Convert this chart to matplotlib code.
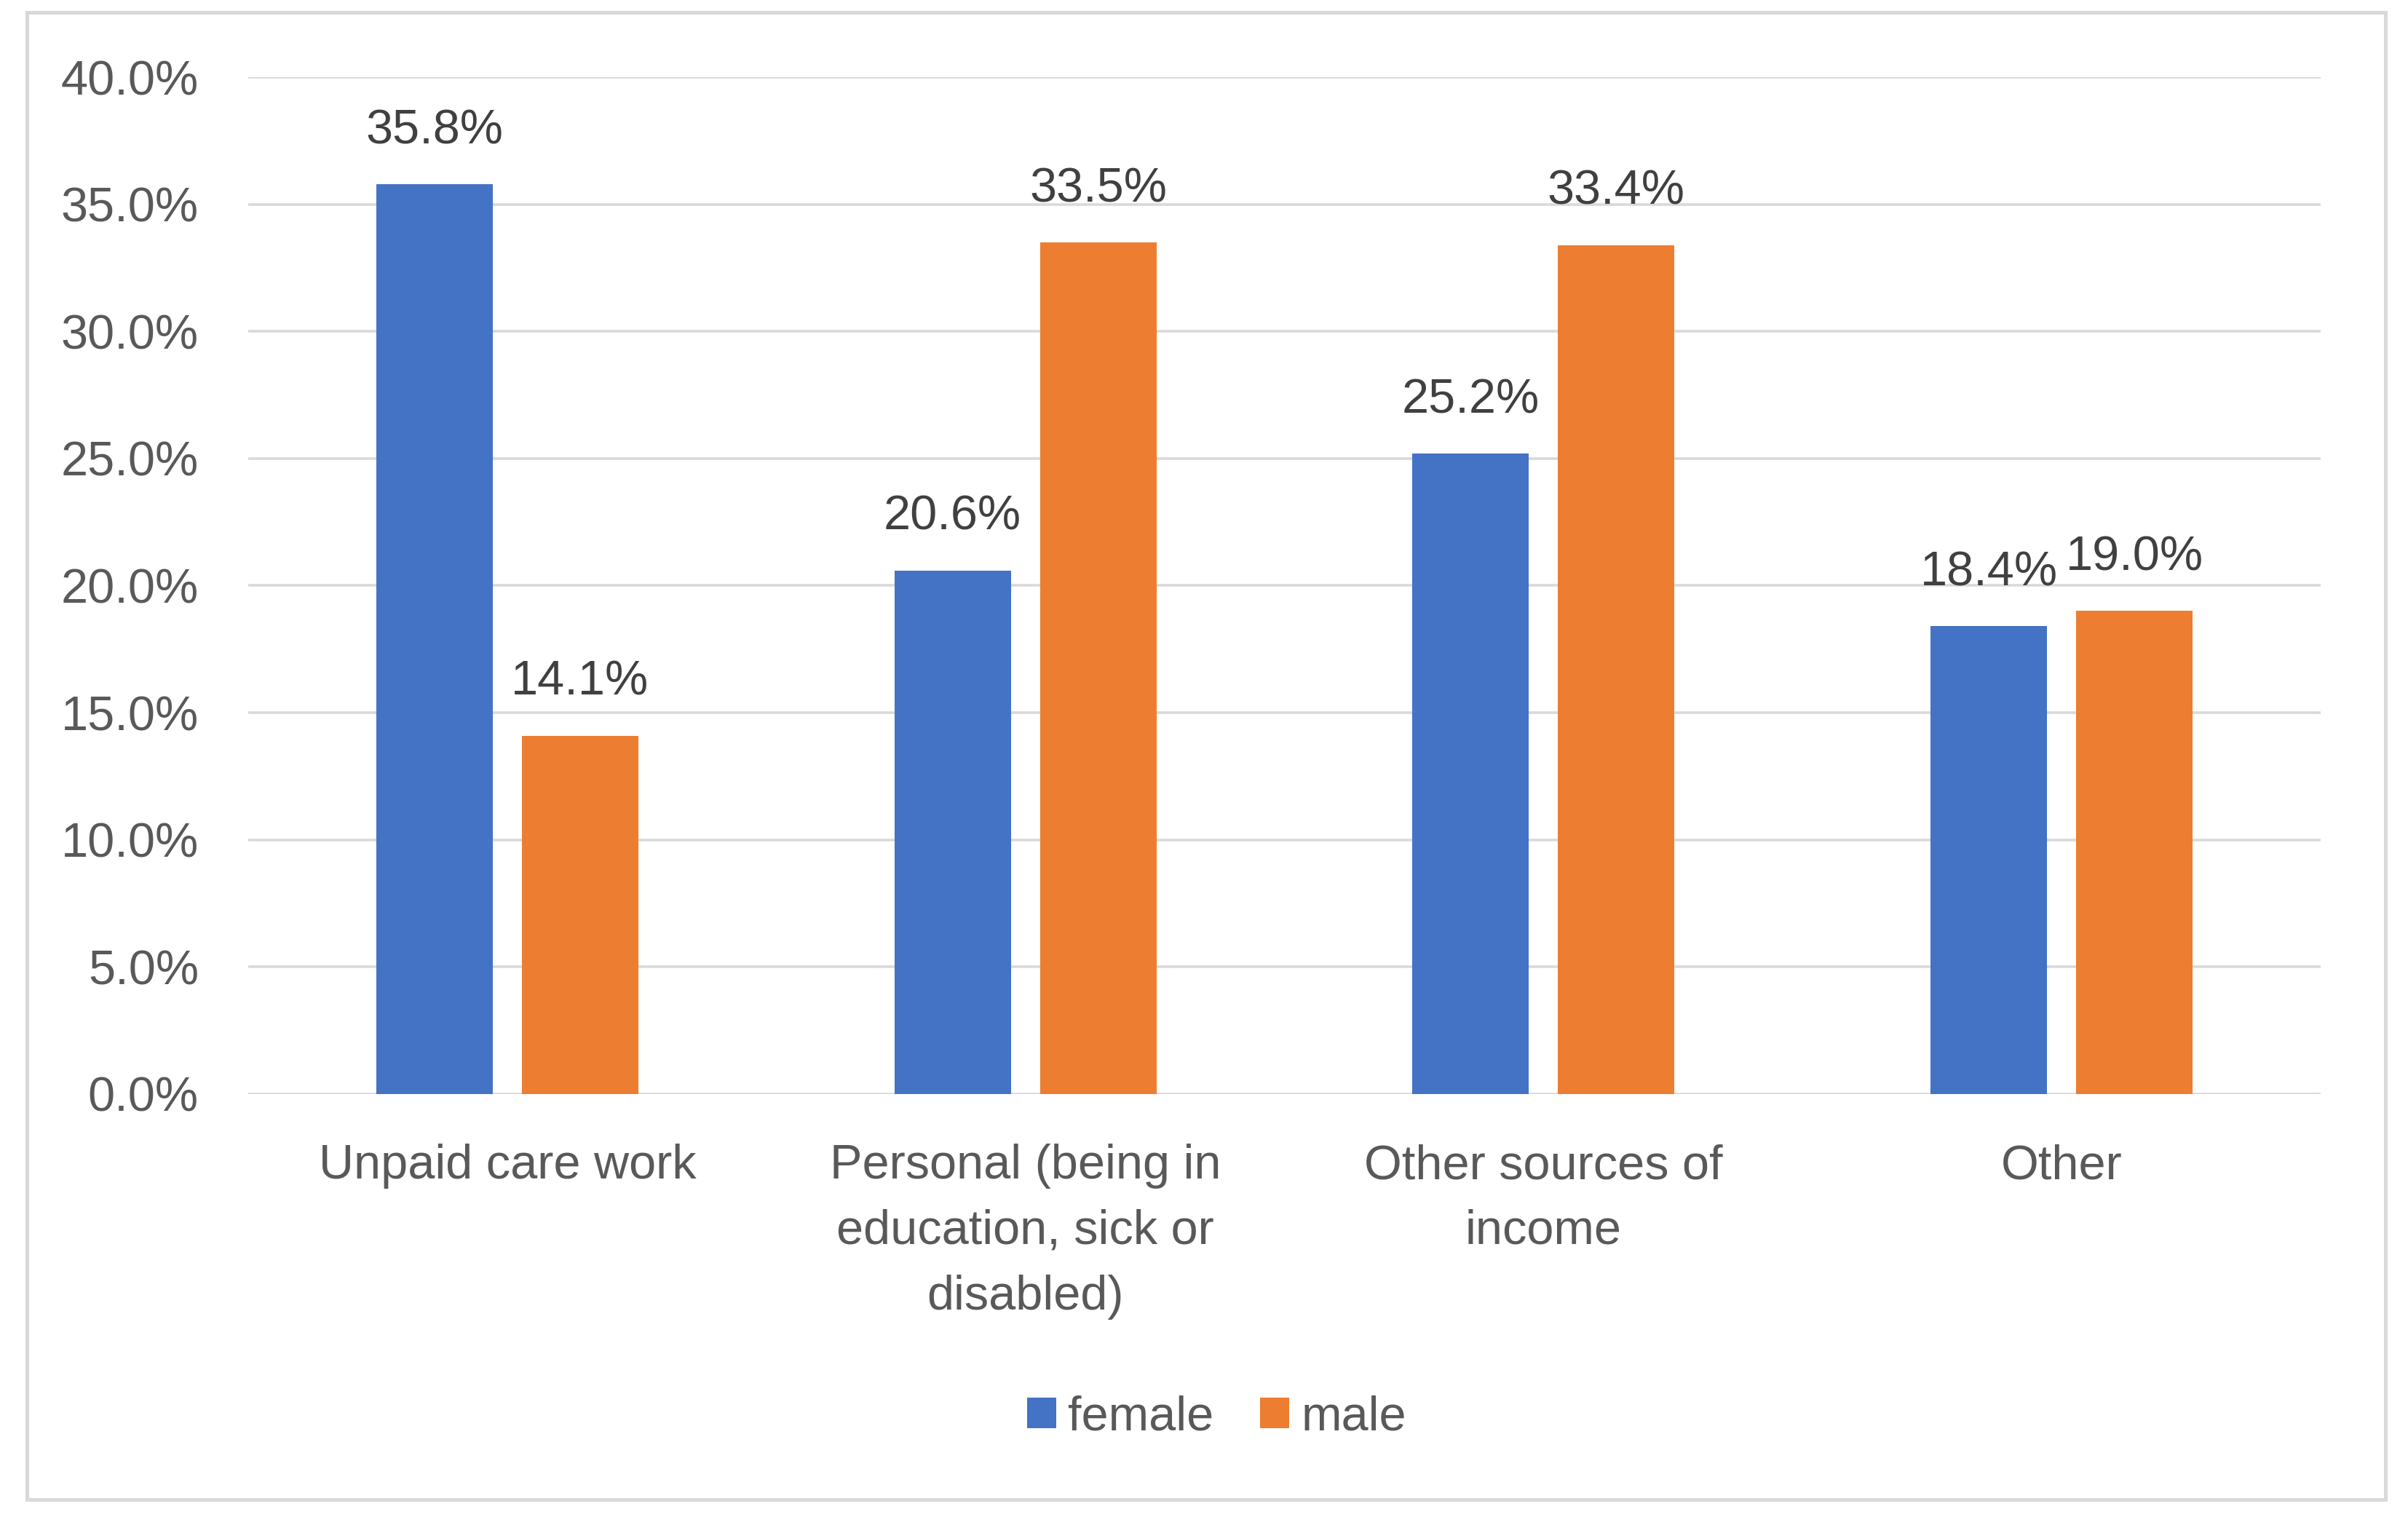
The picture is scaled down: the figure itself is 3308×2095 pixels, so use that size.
import numpy as np
import matplotlib
matplotlib.use("Agg")
import matplotlib.pyplot as plt
from matplotlib.patches import Rectangle

# data
categories = ["Unpaid care work",
              "Personal (being in\neducation, sick or\ndisabled)",
              "Other sources of\nincome",
              "Other"]
female = [35.8, 20.6, 25.2, 18.4]
male = [14.1, 33.5, 33.4, 19.0]
yticks = [0, 5, 10, 15, 20, 25, 30, 35, 40]

plt.rcParams['font.family'] = ['Liberation Sans', 'DejaVu Sans']

BLUE = "#4472C4"
ORANGE = "#ED7D31"
GRID = "#D9D9D9"
TXT = "#595959"
LBL = "#404040"
FS = 48

fig = plt.figure(figsize=(33.08, 20.95), dpi=100)
ax = fig.add_axes([0.1031, 0.2826, 0.8606, 0.6668])

x = np.arange(len(categories))
w = 0.225
off = 0.1405
b1 = ax.bar(x - off, female, w, color=BLUE, label="female", zorder=3)
b2 = ax.bar(x + off, male, w, color=ORANGE, label="male", zorder=3)

for bars, vals in ((b1, female), (b2, male)):
    for r, v in zip(bars, vals):
        ax.annotate(f"{v:.1f}%", (r.get_x() + r.get_width() / 2, v),
                    xytext=(0, 40), textcoords="offset points",
                    ha="center", va="baseline", fontsize=FS, color=LBL)

ax.set_xlim(-0.5, len(categories) - 0.5)
ax.set_ylim(0, 40)
ax.set_yticks(yticks)
ax.set_yticklabels([f"{t:.1f}%" for t in yticks])
ax.set_xticks(x)
ax.set_xticklabels(categories, linespacing=1.58)
ax.tick_params(axis="y", length=0, pad=49, labelsize=FS, labelcolor=TXT)
ax.tick_params(axis="x", length=0, pad=49, labelsize=FS, labelcolor=TXT)
for lab in ax.get_xticklabels():
    lab.set_verticalalignment("top")
    lab.set_multialignment("center")

ax.yaxis.grid(True, color=GRID, linewidth=2.6, zorder=0)
ax.set_axisbelow(True)
for s in ax.spines.values():
    s.set_visible(False)

fig.legend(handles=[b1, b2], labels=["female", "male"], loc="center",
           bbox_to_anchor=(0.5053, 0.0705), ncol=2, frameon=False,
           fontsize=FS, labelcolor=TXT, handlelength=0.6, handleheight=0.6,
           handletextpad=0.25, columnspacing=0.95)

# outer chart border
fig.patches.append(Rectangle((37 / 3308, 1 - 2060 / 2095), (3277 - 37) / 3308,
                             (2060 - 17) / 2095, transform=fig.transFigure,
                             fill=False, edgecolor=GRID, linewidth=3.6))

fig.savefig("out.png", dpi=100, facecolor="white")
